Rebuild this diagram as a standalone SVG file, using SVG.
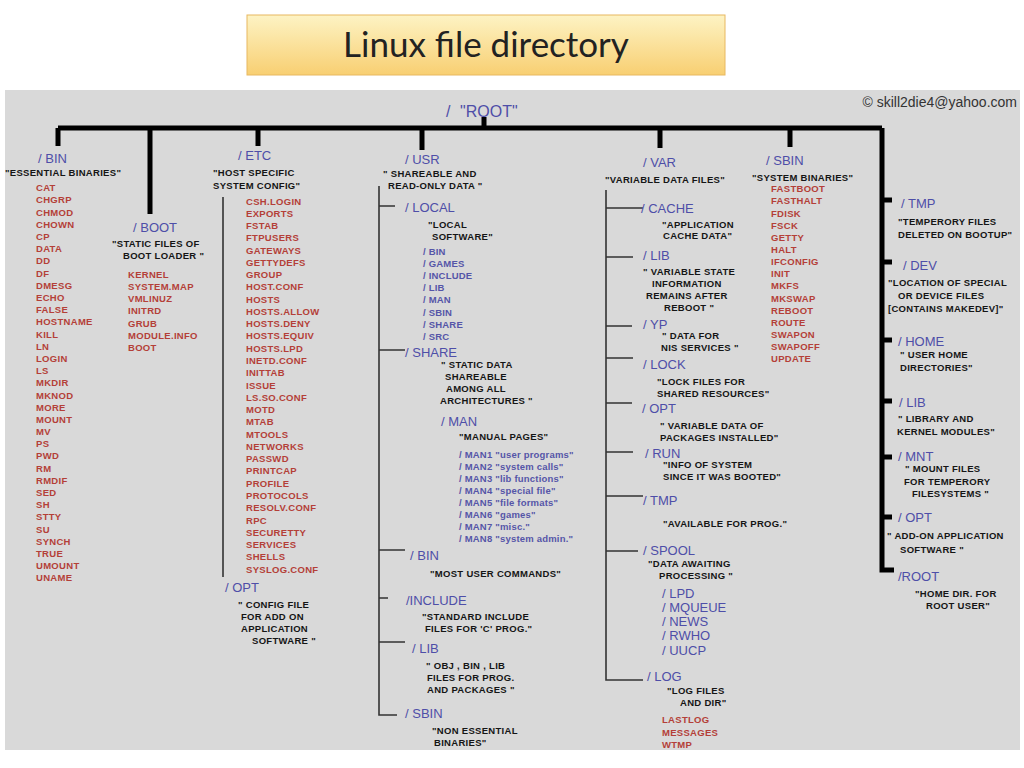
<svg xmlns="http://www.w3.org/2000/svg" width="1024" height="768" viewBox="0 0 1024 768">
<defs>
<linearGradient id="tg" x1="0" y1="0" x2="0" y2="1">
<stop offset="0" stop-color="#fdf3c4"/>
<stop offset="1" stop-color="#f8cf72"/>
</linearGradient>
<style>
text{font-family:"Liberation Sans",Arial,sans-serif}
.lb{font-size:13px;fill:#4e4ea8}
.ds{font-size:9.5px;font-weight:bold;fill:#151515;letter-spacing:0.3px}
.it{font-size:9.5px;font-weight:bold;fill:#b43f38;letter-spacing:0.3px}
.sb{font-size:9.5px;font-weight:bold;fill:#5555a8;letter-spacing:0.2px}
.thick{stroke:#000;stroke-width:5;fill:none}
.thin{stroke:#333;stroke-width:1.6;fill:none}
</style>
</defs>
<rect width="1024" height="768" fill="#fff"/>
<g id="title">
<rect x="247" y="15" width="478" height="60" fill="url(#tg)" stroke="#e8b860" stroke-width="1"/>
<text x="486" y="57" text-anchor="middle" style="font-family:Lato,'Open Sans',sans-serif;font-size:35px;fill:#222">Linux file directory</text>
</g>
<rect x="5" y="90" width="1015" height="660" fill="#d9d9d9"/>
<text x="1017" y="107" text-anchor="end" style="font-size:14px;fill:#333">© skill2die4@yahoo.com</text>
<g id="connectors">
<path class="thick" d="M484 117V128M58 128H882M58 128V146M150 128V214M258 128V146M422 128V150M660 128V148M790 128V147M882 128V570H894"/>
<path class="thick" d="M882 200H892M882 262H892M882 340H892M882 401H892M882 457H892M882 517H892"/>
<path class="thin" d="M223 197V577"/>
<path class="thin" d="M379 186V715H397M379 206H395M379 350H405M379 550H405M379 598H388M379 642H405"/>
<path class="thin" d="M606 190V680H643M606 208H643M606 257H633M606 326H632M606 358H633M606 403H632M606 452H633M606 496H643M606 551H638"/>
</g>
<g id="root"><text x="446" y="117" class="lb" style="font-size:16px">/</text><text x="460" y="117" class="lb" style="font-size:16px">"ROOT"</text></g>
<g id="bin">
<text x="38" y="163" class="lb">/ BIN</text>
<text x="5" y="176" class="ds">"ESSENTIAL BINARIES"</text>
<text class="it"><tspan x="36" y="191.3">CAT</tspan><tspan x="36" dy="12.19">CHGRP</tspan><tspan x="36" dy="12.19">CHMOD</tspan><tspan x="36" dy="12.19">CHOWN</tspan><tspan x="36" dy="12.19">CP</tspan><tspan x="36" dy="12.19">DATA</tspan><tspan x="36" dy="12.19">DD</tspan><tspan x="36" dy="12.19">DF</tspan><tspan x="36" dy="12.19">DMESG</tspan><tspan x="36" dy="12.19">ECHO</tspan><tspan x="36" dy="12.19">FALSE</tspan><tspan x="36" dy="12.19">HOSTNAME</tspan><tspan x="36" dy="12.19">KILL</tspan><tspan x="36" dy="12.19">LN</tspan><tspan x="36" dy="12.19">LOGIN</tspan><tspan x="36" dy="12.19">LS</tspan><tspan x="36" dy="12.19">MKDIR</tspan><tspan x="36" dy="12.19">MKNOD</tspan><tspan x="36" dy="12.19">MORE</tspan><tspan x="36" dy="12.19">MOUNT</tspan><tspan x="36" dy="12.19">MV</tspan><tspan x="36" dy="12.19">PS</tspan><tspan x="36" dy="12.19">PWD</tspan><tspan x="36" dy="12.19">RM</tspan><tspan x="36" dy="12.19">RMDIF</tspan><tspan x="36" dy="12.19">SED</tspan><tspan x="36" dy="12.19">SH</tspan><tspan x="36" dy="12.19">STTY</tspan><tspan x="36" dy="12.19">SU</tspan><tspan x="36" dy="12.19">SYNCH</tspan><tspan x="36" dy="12.19">TRUE</tspan><tspan x="36" dy="12.19">UMOUNT</tspan><tspan x="36" dy="12.19">UNAME</tspan></text>
</g>
<g id="boot">
<text x="133" y="232" class="lb">/ BOOT</text>
<text class="ds"><tspan x="112" y="246.5">"STATIC FILES OF</tspan><tspan x="123" dy="12">BOOT LOADER "</tspan></text>
<text class="it"><tspan x="128" y="277.5">KERNEL</tspan><tspan x="128" dy="12.3">SYSTEM.MAP</tspan><tspan x="128" dy="12.3">VMLINUZ</tspan><tspan x="128" dy="12.3">INITRD</tspan><tspan x="128" dy="12.3">GRUB</tspan><tspan x="128" dy="12.3">MODULE.INFO</tspan><tspan x="128" dy="12.3">BOOT</tspan></text>
</g>
<g id="etc">
<text x="238" y="160" class="lb">/ ETC</text>
<text class="ds"><tspan x="213" y="175.5">"HOST SPECIFIC</tspan><tspan x="213" dy="13.5">SYSTEM CONFIG"</tspan></text>
<text class="it"><tspan x="246" y="204.5">CSH.LOGIN</tspan><tspan x="246" dy="12.27">EXPORTS</tspan><tspan x="246" dy="12.27">FSTAB</tspan><tspan x="246" dy="12.27">FTPUSERS</tspan><tspan x="246" dy="12.27">GATEWAYS</tspan><tspan x="246" dy="12.27">GETTYDEFS</tspan><tspan x="246" dy="12.27">GROUP</tspan><tspan x="246" dy="12.27">HOST.CONF</tspan><tspan x="246" dy="12.27">HOSTS</tspan><tspan x="246" dy="12.27">HOSTS.ALLOW</tspan><tspan x="246" dy="12.27">HOSTS.DENY</tspan><tspan x="246" dy="12.27">HOSTS.EQUIV</tspan><tspan x="246" dy="12.27">HOSTS.LPD</tspan><tspan x="246" dy="12.27">INETD.CONF</tspan><tspan x="246" dy="12.27">INITTAB</tspan><tspan x="246" dy="12.27">ISSUE</tspan><tspan x="246" dy="12.27">LS.SO.CONF</tspan><tspan x="246" dy="12.27">MOTD</tspan><tspan x="246" dy="12.27">MTAB</tspan><tspan x="246" dy="12.27">MTOOLS</tspan><tspan x="246" dy="12.27">NETWORKS</tspan><tspan x="246" dy="12.27">PASSWD</tspan><tspan x="246" dy="12.27">PRINTCAP</tspan><tspan x="246" dy="12.27">PROFILE</tspan><tspan x="246" dy="12.27">PROTOCOLS</tspan><tspan x="246" dy="12.27">RESOLV.CONF</tspan><tspan x="246" dy="12.27">RPC</tspan><tspan x="246" dy="12.27">SECURETTY</tspan><tspan x="246" dy="12.27">SERVICES</tspan><tspan x="246" dy="12.27">SHELLS</tspan><tspan x="246" dy="12.27">SYSLOG.CONF</tspan></text>
</g>
<g id="etc-opt">
<text x="225" y="592" class="lb">/ OPT</text>
<text class="ds"><tspan x="238" y="607.5">" CONFIG FILE</tspan><tspan x="241" dy="12">FOR ADD ON</tspan><tspan x="241" dy="12">APPLICATION</tspan><tspan x="252" dy="12">SOFTWARE "</tspan></text>
</g>
<g id="usr">
<text x="405" y="164" class="lb">/ USR</text>
<text class="ds"><tspan x="383" y="176.5">" SHAREABLE AND</tspan><tspan x="388" dy="12">READ-ONLY DATA "</tspan></text>
</g>
<g id="usr-local">
<text x="405" y="212" class="lb">/ LOCAL</text>
<text class="ds"><tspan x="428" y="227.5">"LOCAL</tspan><tspan x="432" dy="12">SOFTWARE"</tspan></text>
<text class="sb"><tspan x="423" y="255">/ BIN</tspan><tspan x="423" dy="12.1">/ GAMES</tspan><tspan x="423" dy="12.1">/ INCLUDE</tspan><tspan x="423" dy="12.1">/ LIB</tspan><tspan x="423" dy="12.1">/ MAN</tspan><tspan x="423" dy="12.1">/ SBIN</tspan><tspan x="423" dy="12.1">/ SHARE</tspan><tspan x="423" dy="12.1">/ SRC</tspan></text>
</g>
<g id="usr-share">
<text x="405" y="357" class="lb">/ SHARE</text>
<text class="ds"><tspan x="441" y="367.5">" STATIC DATA</tspan><tspan x="445" dy="12">SHAREABLE</tspan><tspan x="446" dy="12">AMONG ALL</tspan><tspan x="440" dy="12">ARCHITECTURES "</tspan></text>
<text x="441" y="426" class="lb">/ MAN</text>
<text x="459" y="439.5" class="ds">"MANUAL PAGES"</text>
<text class="sb"><tspan x="459" y="457.5">/ MAN1 "user programs"</tspan><tspan x="459" dy="12.14">/ MAN2 "system calls"</tspan><tspan x="459" dy="12.14">/ MAN3 "lib functions"</tspan><tspan x="459" dy="12.14">/ MAN4 "special file"</tspan><tspan x="459" dy="12.14">/ MAN5 "file formats"</tspan><tspan x="459" dy="12.14">/ MAN6 "games"</tspan><tspan x="459" dy="12.14">/ MAN7 "misc."</tspan><tspan x="459" dy="12.14">/ MAN8 "system admin."</tspan></text>
</g>
<g id="usr-bin">
<text x="410" y="560" class="lb">/ BIN</text>
<text x="430" y="576.5" class="ds">"MOST USER COMMANDS"</text>
</g>
<g id="usr-include">
<text x="406" y="605" class="lb">/INCLUDE</text>
<text class="ds"><tspan x="422" y="619.5">"STANDARD INCLUDE</tspan><tspan x="425" dy="12">FILES FOR  'C' PROG."</tspan></text>
</g>
<g id="usr-lib">
<text x="412" y="653" class="lb">/ LIB</text>
<text class="ds"><tspan x="426" y="668.5">" OBJ , BIN , LIB</tspan><tspan x="427" dy="12">FILES FOR PROG.</tspan><tspan x="427" dy="12">AND PACKAGES "</tspan></text>
</g>
<g id="usr-sbin">
<text x="405" y="718" class="lb">/ SBIN</text>
<text class="ds"><tspan x="432" y="733.5">"NON ESSENTIAL</tspan><tspan x="434" dy="12">BINARIES"</tspan></text>
</g>
<g id="var">
<text x="643" y="167" class="lb">/ VAR</text>
<text x="605" y="182.5" class="ds">"VARIABLE DATA FILES"</text>
</g>
<g id="var-cache">
<text x="641" y="213" class="lb">/ CACHE</text>
<text class="ds"><tspan x="662" y="227.5">"APPLICATION</tspan><tspan x="663" dy="11.5">CACHE DATA"</tspan></text>
</g>
<g id="var-lib">
<text x="643" y="260" class="lb">/ LIB</text>
<text class="ds"><tspan x="643" y="274.5">" VARIABLE STATE</tspan><tspan x="652" dy="12">INFORMATION</tspan><tspan x="646" dy="12">REMAINS  AFTER</tspan><tspan x="664" dy="12">REBOOT "</tspan></text>
</g>
<g id="var-yp">
<text x="643" y="329" class="lb">/ YP</text>
<text class="ds"><tspan x="662" y="339">" DATA FOR</tspan><tspan x="661" dy="12">NIS SERVICES "</tspan></text>
</g>
<g id="var-lock">
<text x="643" y="369" class="lb">/ LOCK</text>
<text class="ds"><tspan x="657" y="384.5">"LOCK FILES FOR</tspan><tspan x="657" dy="12">SHARED RESOURCES"</tspan></text>
</g>
<g id="var-opt">
<text x="642" y="413" class="lb">/ OPT</text>
<text class="ds"><tspan x="660" y="428.5">"  VARIABLE DATA OF</tspan><tspan x="660" dy="12">PACKAGES INSTALLED"</tspan></text>
</g>
<g id="var-run">
<text x="645" y="458" class="lb">/ RUN</text>
<text class="ds"><tspan x="663" y="468">"INFO OF SYSTEM</tspan><tspan x="663" dy="12">SINCE IT WAS BOOTED"</tspan></text>
</g>
<g id="var-tmp">
<text x="643" y="505" class="lb">/ TMP</text>
<text x="663" y="526.5" class="ds">"AVAILABLE FOR PROG."</text>
</g>
<g id="var-spool">
<text x="643" y="555" class="lb">/ SPOOL</text>
<text class="ds"><tspan x="648" y="566.5">"DATA AWAITING</tspan><tspan x="659" dy="12.5">PROCESSING "</tspan></text>
<text class="lb"><tspan x="662" y="597.5">/ LPD</tspan><tspan x="662" dy="14.25">/ MQUEUE</tspan><tspan x="662" dy="14.25">/ NEWS</tspan><tspan x="662" dy="14.25">/ RWHO</tspan><tspan x="662" dy="14.25">/ UUCP</tspan></text>
</g>
<g id="var-log">
<text x="647" y="681" class="lb">/ LOG</text>
<text class="ds"><tspan x="667" y="693.5">"LOG FILES</tspan><tspan x="680" dy="12.5">AND DIR"</tspan></text>
<text class="it"><tspan x="662" y="723.3">LASTLOG</tspan><tspan x="662" dy="12.5">MESSAGES</tspan><tspan x="662" dy="12.5">WTMP</tspan></text>
</g>
<g id="sbin">
<text x="766" y="165" class="lb">/ SBIN</text>
<text x="752" y="180.5" class="ds">"SYSTEM BINARIES"</text>
<text class="it"><tspan x="771" y="192.3">FASTBOOT</tspan><tspan x="771" dy="12.14">FASTHALT</tspan><tspan x="771" dy="12.14">FDISK</tspan><tspan x="771" dy="12.14">FSCK</tspan><tspan x="771" dy="12.14">GETTY</tspan><tspan x="771" dy="12.14">HALT</tspan><tspan x="771" dy="12.14">IFCONFIG</tspan><tspan x="771" dy="12.14">INIT</tspan><tspan x="771" dy="12.14">MKFS</tspan><tspan x="771" dy="12.14">MKSWAP</tspan><tspan x="771" dy="12.14">REBOOT</tspan><tspan x="771" dy="12.14">ROUTE</tspan><tspan x="771" dy="12.14">SWAPON</tspan><tspan x="771" dy="12.14">SWAPOFF</tspan><tspan x="771" dy="12.14">UPDATE</tspan></text>
</g>
<g id="tmp">
<text x="901" y="208" class="lb">/ TMP</text>
<text class="ds"><tspan x="898" y="224.5">"TEMPERORY FILES</tspan><tspan x="898" dy="13.5">DELETED ON BOOTUP"</tspan></text>
</g>
<g id="dev">
<text x="903" y="270" class="lb">/ DEV</text>
<text class="ds"><tspan x="888" y="285.5">"LOCATION OF SPECIAL</tspan><tspan x="898" dy="13">OR DEVICE FILES</tspan><tspan x="888" dy="13">[CONTAINS MAKEDEV]"</tspan></text>
</g>
<g id="home">
<text x="898" y="346" class="lb">/ HOME</text>
<text class="ds"><tspan x="900" y="358">" USER HOME</tspan><tspan x="900" dy="13">DIRECTORIES"</tspan></text>
</g>
<g id="lib">
<text x="899" y="407" class="lb">/ LIB</text>
<text class="ds"><tspan x="898" y="421.5">"  LIBRARY AND</tspan><tspan x="897" dy="13">KERNEL MODULES"</tspan></text>
</g>
<g id="mnt">
<text x="898" y="461" class="lb">/ MNT</text>
<text class="ds"><tspan x="905" y="472">"  MOUNT FILES</tspan><tspan x="904" dy="12.5">FOR TEMPERORY</tspan><tspan x="912" dy="12.5">FILESYSTEMS "</tspan></text>
</g>
<g id="opt">
<text x="898" y="522" class="lb">/ OPT</text>
<text class="ds"><tspan x="887" y="538.5">" ADD-ON APPLICATION</tspan><tspan x="900" dy="14">SOFTWARE "</tspan></text>
</g>
<g id="rootdir">
<text x="898" y="581" class="lb">/ROOT</text>
<text class="ds"><tspan x="915" y="596.5">"HOME DIR. FOR</tspan><tspan x="926" dy="12">ROOT USER"</tspan></text>
</g>
</svg>
